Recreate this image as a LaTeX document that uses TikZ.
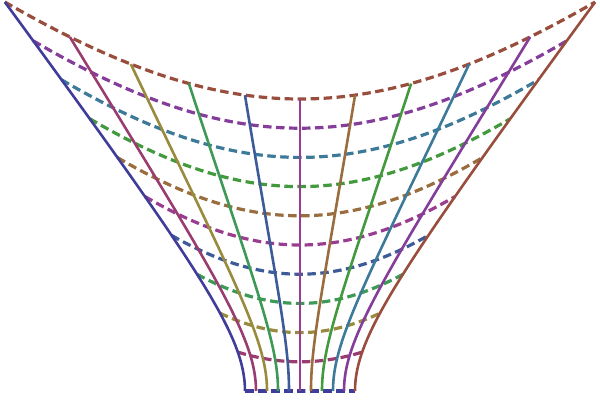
\documentclass[tikz,border=0pt]{standalone}
\definecolor{c0}{rgb}{0.2472,0.24,0.6}
\definecolor{c1}{rgb}{0.6,0.24,0.442893}
\definecolor{c2}{rgb}{0.6,0.547014,0.24}
\definecolor{c3}{rgb}{0.24,0.6,0.33692}
\definecolor{c4}{rgb}{0.24,0.353173,0.6}
\definecolor{c5}{rgb}{0.6,0.24,0.563266}
\definecolor{c6}{rgb}{0.6,0.426641,0.24}
\definecolor{c7}{rgb}{0.263452,0.6,0.24}
\definecolor{c8}{rgb}{0.24,0.473545,0.6}
\definecolor{c9}{rgb}{0.516361,0.24,0.6}
\definecolor{c10}{rgb}{0.6,0.306268,0.24}
\tikzset{
  declare function={
    Wd(\v)=5*sqrt(121+3364*\v*\v);
    px(\s,\v)=300+Wd(\v)*(\s-0.07*\v*\s*(1-\s*\s));
    py(\s,\v)=11+292*\v+97*\v*\s*\s;
  },
  solidline/.style={line width=2.6pt, line join=round},
  dashline/.style={line width=3.2pt, dash pattern=on 8.5pt off 4.5pt},
}
\begin{document}
\begin{tikzpicture}[x=1pt,y=1pt]
\useasboundingbox (0,0) rectangle (600,402);
% dashed curves (images of v = const)
\foreach \k in {0,...,10}{
  \pgfmathsetmacro{\vv}{\k/10}
  \draw[dashline, color=c\k] plot[domain=-1:1, samples=81, variable=\s, smooth] ({px(\s,\vv)},{py(\s,\vv)});
}
% solid curves (images of s = const)
\foreach \i in {0,...,10}{
  \pgfmathsetmacro{\ss}{(\i-5)/5}
  \draw[solidline, color=c\i] plot[domain=0:1, samples=61, variable=\v, smooth] ({px(\ss,\v)},{py(\ss,\v)});
}
\end{tikzpicture}
\end{document}
